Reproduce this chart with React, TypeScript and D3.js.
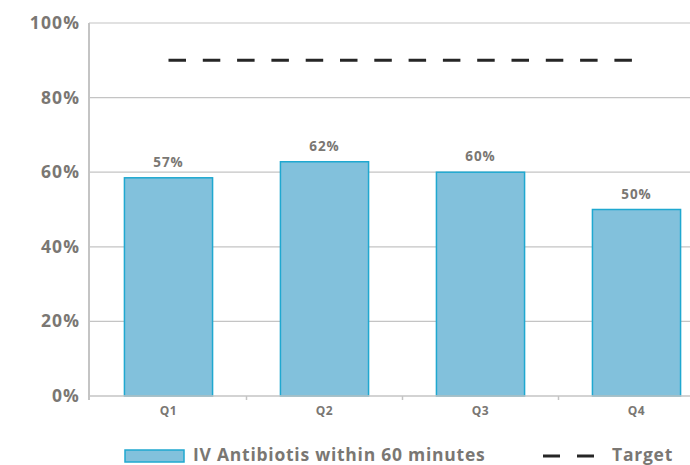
import React, { useEffect, useRef } from 'react';
import * as d3 from 'd3';

const categories = ['Q1', 'Q2', 'Q3', 'Q4'];
const values = [58.5, 62.8, 60, 50];
const valueLabels = ['57%', '62%', '60%', '50%'];
const target = 90;
const yTicks = [0, 20, 40, 60, 80, 100];
const seriesName = 'IV Antibiotis within 60 minutes';
const targetName = 'Target';

const W = 690;
const H = 465;
const FONT = '"Open Sans", "DejaVu Sans", sans-serif';
const TEXT = '#7a7773';
const BAR = '#82c1dc';
const BAR_EDGE = '#1fa8d0';

export default function App() {
  const ref = useRef<SVGSVGElement>(null);

  useEffect(() => {
    if (!ref.current) return;
    const svg = d3.select(ref.current);
    svg.selectAll('*').remove();

    const left = 89;
    const top = 23;
    const bottom = 396;

    const x = d3.scaleBand<string>()
      .domain(categories)
      .range([90.5, 90.5 + 4 * 156])
      .paddingInner(0.435)
      .paddingOuter(0.2175);
    const y = d3.scaleLinear().domain([0, 100]).range([bottom, top]);

    // gridlines
    svg.append('g')
      .selectAll('line')
      .data(yTicks.filter(t => t > 0))
      .enter()
      .append('line')
      .attr('x1', left)
      .attr('x2', W)
      .attr('y1', d => y(d))
      .attr('y2', d => y(d))
      .attr('stroke', '#c4c4c4')
      .attr('stroke-width', 1.2);

    // y labels
    svg.append('g')
      .selectAll('text')
      .data(yTicks)
      .enter()
      .append('text')
      .attr('x', 80)
      .attr('y', d => y(d) + 6)
      .attr('text-anchor', 'end')
      .attr('font-family', FONT)
      .attr('font-weight', 'bold')
      .attr('font-size', '17.5px')
      .attr('letter-spacing', '1.1px')
      .attr('fill', TEXT)
      .text(d => `${d}%`);

    // bars
    svg.append('g')
      .selectAll('rect')
      .data(values)
      .enter()
      .append('rect')
      .attr('x', (d, i) => x(categories[i])!)
      .attr('y', d => y(d))
      .attr('width', x.bandwidth())
      .attr('height', d => bottom - y(d))
      .attr('fill', BAR)
      .attr('stroke', BAR_EDGE)
      .attr('stroke-width', 1.5);

    // axes lines
    svg.append('line')
      .attr('x1', left).attr('x2', left)
      .attr('y1', top).attr('y2', bottom + 4)
      .attr('stroke', '#c4c4c4').attr('stroke-width', 2);
    svg.append('line')
      .attr('x1', left).attr('x2', W)
      .attr('y1', bottom).attr('y2', bottom)
      .attr('stroke', '#c4c4c4').attr('stroke-width', 1.5);
    svg.append('g')
      .selectAll('line')
      .data(categories.slice(1))
      .enter()
      .append('line')
      .attr('x1', d => x(d)! - x.step() * x.paddingInner() / 2)
      .attr('x2', d => x(d)! - x.step() * x.paddingInner() / 2)
      .attr('y1', bottom)
      .attr('y2', bottom + 4)
      .attr('stroke', '#c4c4c4')
      .attr('stroke-width', 1.5);

    // value labels with white background
    const lbl = svg.append('g')
      .selectAll('g')
      .data(values)
      .enter()
      .append('g')
      .attr('transform', (d, i) => `translate(${x(categories[i])! + x.bandwidth() / 2},${y(d) - 11})`);
    lbl.append('rect')
      .attr('x', -30).attr('y', -14).attr('width', 60).attr('height', 18)
      .attr('fill', 'white');
    lbl.append('text')
      .attr('text-anchor', 'middle')
      .attr('font-family', FONT)
      .attr('font-weight', 'bold')
      .attr('font-size', '13.5px')
      .attr('letter-spacing', '0.9px')
      .attr('fill', TEXT)
      .text((d, i) => valueLabels[i]);

    // x labels
    svg.append('g')
      .selectAll('text')
      .data(categories)
      .enter()
      .append('text')
      .attr('x', d => x(d)! + x.bandwidth() / 2)
      .attr('y', 415)
      .attr('text-anchor', 'middle')
      .attr('font-family', FONT)
      .attr('font-weight', 'bold')
      .attr('font-size', '12px')
      .attr('letter-spacing', '0.5px')
      .attr('fill', TEXT)
      .text(d => d);

    // target line
    const first = categories[0];
    const last = categories[categories.length - 1];
    svg.append('line')
      .attr('x1', x(first)! + x.bandwidth() / 2)
      .attr('x2', x(last)! + x.bandwidth() / 2)
      .attr('y1', y(target))
      .attr('y2', y(target))
      .attr('stroke', '#262626')
      .attr('stroke-width', 3)
      .attr('stroke-dasharray', '17.5,16.8');

    // legend
    const lg = svg.append('g');
    lg.append('rect')
      .attr('x', 125).attr('y', 450).attr('width', 59).attr('height', 12)
      .attr('fill', BAR).attr('stroke', BAR_EDGE).attr('stroke-width', 1.5);
    lg.append('text')
      .attr('x', 193).attr('y', 461)
      .attr('font-family', FONT).attr('font-weight', 'bold')
      .attr('font-size', '17.5px').attr('letter-spacing', '0.75px')
      .attr('fill', TEXT)
      .text(seriesName);
    lg.append('line')
      .attr('x1', 543).attr('x2', 596).attr('y1', 456).attr('y2', 456)
      .attr('stroke', '#262626').attr('stroke-width', 3)
      .attr('stroke-dasharray', '17,17');
    lg.append('text')
      .attr('x', 612).attr('y', 461)
      .attr('font-family', FONT).attr('font-weight', 'bold')
      .attr('font-size', '17.5px').attr('letter-spacing', '0.75px')
      .attr('fill', TEXT)
      .text(targetName);
  }, []);

  return (
    <svg
      ref={ref}
      width={W}
      height={H}
      style={{ position: 'absolute', left: 0, top: 0, background: 'white' }}
    />
  );
}
